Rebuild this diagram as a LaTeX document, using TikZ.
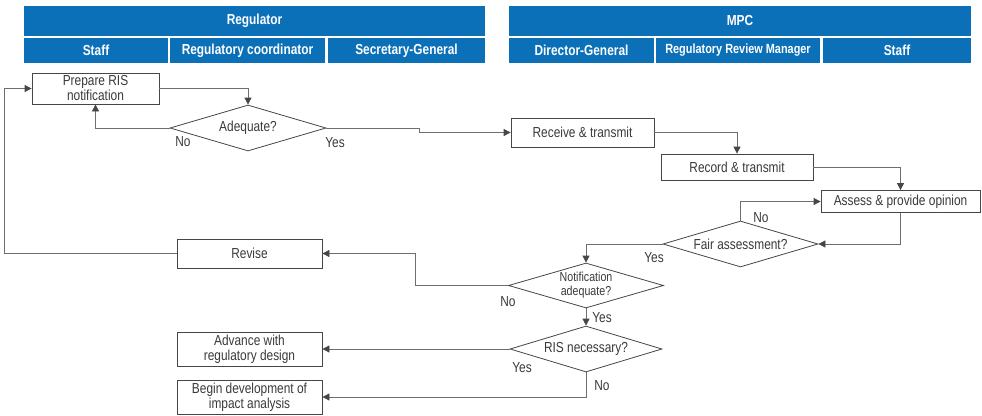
\documentclass[tikz,border=0pt]{standalone}
\usepackage{fontspec}
\setmainfont{Liberation Sans}[FakeStretch=0.82]
\usetikzlibrary{shapes.geometric,arrows.meta,positioning}
\definecolor{hdrblue}{RGB}{11,112,184}
\definecolor{inktext}{RGB}{58,58,58}
\definecolor{lineg}{RGB}{110,110,110}
\definecolor{boxg}{RGB}{70,70,70}
\tikzset{
  hdr/.style={fill=hdrblue,draw=none,inner sep=0pt,text=white,
    font=\fontsize{14.5}{16}\selectfont\bfseries},
  stepbox/.style={draw=boxg,line width=0.8pt,fill=white,inner sep=1pt,
    text=inktext,align=center,font=\fontsize{14.5}{15}\selectfont},
  decide/.style={diamond,draw=boxg,line width=0.8pt,fill=white,inner sep=0pt,
    aspect=3.4,text=inktext,align=center,font=\fontsize{14.5}{15}\selectfont},
  flow/.style={draw=lineg,line width=0.8pt,
    arrows={-{Triangle[length=7pt,width=7pt,color=boxg]}}},
  lbl/.style={text=inktext,font=\fontsize{14.5}{15}\selectfont,inner sep=0pt}
}
\begin{document}
\begin{tikzpicture}[x=1pt,y=-1pt]
\useasboundingbox (0,0) rectangle (982,415);

% column headers
\node[hdr,minimum width=461pt,minimum height=30pt] (hReg) at (254.5,21) {Regulator};
\node[hdr,minimum width=144pt,minimum height=25pt] (hRegStaff) at (96,50.5) {Staff};
\node[hdr,minimum width=155pt,minimum height=25pt] (hRegCoord) at (247.5,50.5) {Regulatory coordinator};
\node[hdr,minimum width=157pt,minimum height=25pt] (hSecGen) at (406.5,50.5) {Secretary-General};
\node[hdr,minimum width=462pt,minimum height=30pt] (hMPC) at (740,21) {MPC};
\node[hdr,minimum width=145pt,minimum height=25pt] (hDirGen) at (581.5,50.5) {Director-General};
\node[hdr,minimum width=164pt,minimum height=25pt,font=\fontsize{13.3}{15}\selectfont\bfseries] (hRRM) at (738,50.5) {Regulatory Review Manager};
\node[hdr,minimum width=148pt,minimum height=25pt] (hMPCStaff) at (897,50.5) {Staff};

% process steps
\node[stepbox,minimum width=127pt,minimum height=31pt] (prep) at (95.5,88.5) {Prepare RIS\\notification};
\node[stepbox,minimum width=143pt,minimum height=29pt] (recv) at (582.5,132.5) {Receive \& transmit};
\node[stepbox,minimum width=152pt,minimum height=26pt] (rec) at (737,167) {Record \& transmit};
\node[stepbox,minimum width=159pt,minimum height=22pt] (assess) at (900.5,201.5) {Assess \& provide opinion};
\node[stepbox,minimum width=145pt,minimum height=29pt] (revise) at (249.5,253.5) {Revise};
\node[stepbox,minimum width=145pt,minimum height=34pt] (advance) at (249.5,349) {Advance with\\regulatory design};
\node[stepbox,minimum width=145pt,minimum height=34pt] (begin) at (249.5,397) {Begin development of\\impact analysis};

% decisions
\node[decide,minimum width=156pt,minimum height=46pt] (adeq) at (248,128) {Adequate?};
\node[decide,minimum width=155pt,minimum height=46pt] (fair) at (740.5,244) {Fair assessment?};
\node[decide,minimum width=155pt,minimum height=45pt,font=\fontsize{13}{14}\selectfont] (notif) at (586,285.5) {Notification\\adequate?};
\node[decide,minimum width=152pt,minimum height=46pt] (ris) at (586,349) {RIS necessary?};

% connectors
\draw[flow] (prep.east) -| (adeq.north);
\draw[flow] (adeq.west) -| (prep.south);
\draw[flow] (adeq.east) -- ++(93,0) |- (recv.west);
\draw[flow] (recv.east) -| (rec.north);
\draw[flow] (rec.east) -| (assess.north);
\draw[flow] (assess.south) |- (fair.east);
\draw[flow] (fair.north) |- (assess.west);
\draw[flow] (fair.west) -| (notif.north);
\draw[flow] (notif.west) -- ++(-93,0) |- (revise.east);
\draw[flow] (revise.west) -- ++(-172,0) |- (prep.west);
\draw[flow] (notif.south) -- (ris.north);
\draw[flow] (ris.west) -- (advance.east);
\draw[flow] (ris.south) |- (begin.east);

% branch labels
\node[lbl] (lAdeqNo) at (183,142) {No};
\node[lbl] (lAdeqYes) at (335,143) {Yes};
\node[lbl] (lFairNo) at (761,218) {No};
\node[lbl] (lFairYes) at (654,258) {Yes};
\node[lbl] (lNotifNo) at (508,302) {No};
\node[lbl] (lNotifYes) at (602,318) {Yes};
\node[lbl] (lRisYes) at (522,368) {Yes};
\node[lbl] (lRisNo) at (602,386) {No};
\end{tikzpicture}
\end{document}
